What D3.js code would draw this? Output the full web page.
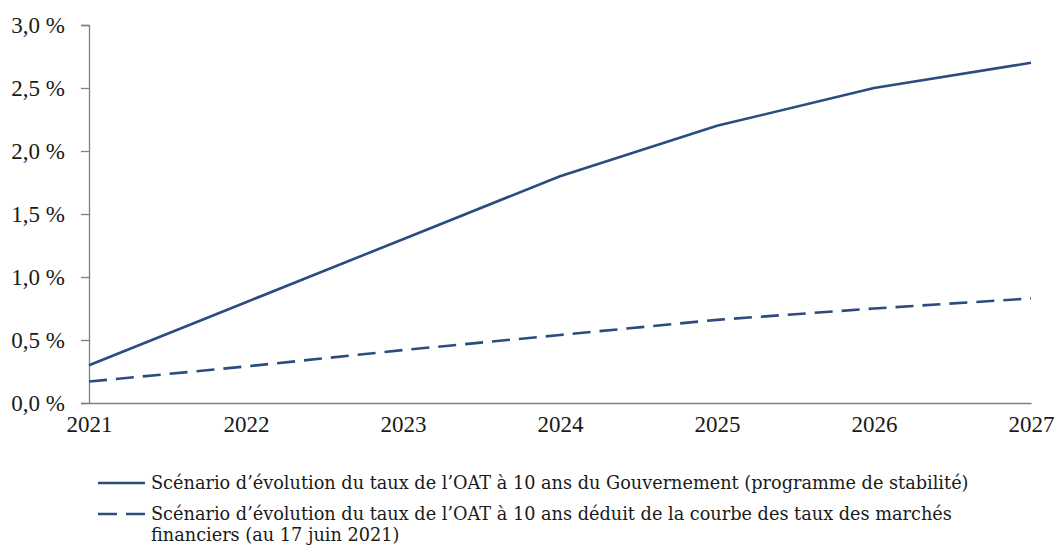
<!DOCTYPE html>
<html>
<head>
<meta charset="utf-8">
<script src="https://cdn.jsdelivr.net/npm/d3@7"></script>
<style>
  html, body { margin: 0; padding: 0; background: #fff; }
  svg text { font-family: "Liberation Serif", "DejaVu Serif", serif; fill: #1a1a1a; }
  svg .legend text { font-family: "DejaVu Serif", "Liberation Serif", serif; }
</style>
</head>
<body>
<svg id="chart" width="1056" height="549"></svg>
<script>
// Years on the horizontal axis
const years = [2021, 2022, 2023, 2024, 2025, 2026, 2027];
// 10-year OAT rate, government scenario (stability programme), in %
const govRates = [0.30, 0.80, 1.30, 1.80, 2.20, 2.50, 2.70];
// 10-year OAT rate implied by the market yield curve (17 June 2021), in %
const marketRates = [0.17, 0.29, 0.42, 0.54, 0.66, 0.75, 0.83];
// Y-axis tick values
const yTicks = [0, 0.5, 1.0, 1.5, 2.0, 2.5, 3.0];
// Legend labels
const legendGov = "Scénario d\u2019évolution du taux de l\u2019OAT à 10 ans du Gouvernement (programme de stabilité)";
const legendMarket1 = "Scénario d\u2019évolution du taux de l\u2019OAT à 10 ans déduit de la courbe des taux des marchés";
const legendMarket2 = "financiers (au 17 juin 2021)";

const lineColor = "#2b4c7e";
const axisColor = "#808080";

const svg = d3.select("#chart");
const margin = { left: 89, right: 25, top: 25, bottom: 146 };
const W = 1056, H = 549;

const x = d3.scalePoint().domain(years).range([margin.left, W - margin.right]);
const y = d3.scaleLinear().domain([0, 3]).range([H - margin.bottom, margin.top]);

const fmt = v => d3.format(".1f")(v).replace(".", ",") + " %";

// Y axis
const yAxis = svg.append("g")
  .attr("transform", `translate(${margin.left},0)`)
  .call(d3.axisLeft(y).tickValues(yTicks).tickFormat(fmt).tickSize(8).tickPadding(16));
yAxis.select(".domain").attr("stroke", axisColor).attr("stroke-width", 1.3);
yAxis.selectAll(".tick line").attr("stroke", axisColor).attr("stroke-width", 1.3);
yAxis.selectAll(".tick text").style("font-size", "23px").attr("fill", "#1a1a1a");

// X axis
const xAxis = svg.append("g")
  .attr("transform", `translate(0,${y(0)})`)
  .call(d3.axisBottom(x).tickSize(0).tickPadding(13).tickSizeOuter(0));
xAxis.select(".domain").attr("stroke", axisColor).attr("stroke-width", 1.3);
xAxis.selectAll(".tick text").style("font-size", "23px").attr("fill", "#1a1a1a");

const line = d3.line().x((d, i) => x(years[i])).y(d => y(d));

svg.append("path")
  .datum(govRates)
  .attr("d", line)
  .attr("fill", "none")
  .attr("stroke", lineColor)
  .attr("stroke-width", 2.6);

svg.append("path")
  .datum(marketRates)
  .attr("d", line)
  .attr("fill", "none")
  .attr("stroke", lineColor)
  .attr("stroke-width", 2.6)
  .attr("stroke-dasharray", "18,9");

// Legend
const lg = svg.append("g").attr("class", "legend");
lg.append("line").attr("x1", 98).attr("x2", 145).attr("y1", 483).attr("y2", 483)
  .attr("stroke", lineColor).attr("stroke-width", 2.6);
lg.append("text").attr("x", 151).attr("y", 489).style("font-size", "17.7px").text(legendGov);
lg.append("line").attr("x1", 98).attr("x2", 145).attr("y1", 514).attr("y2", 514)
  .attr("stroke", lineColor).attr("stroke-width", 2.6).attr("stroke-dasharray", "19,9");
lg.append("text").attr("x", 151).attr("y", 520).style("font-size", "17.7px").text(legendMarket1);
lg.append("text").attr("x", 151).attr("y", 541).style("font-size", "17.7px").text(legendMarket2);
</script>
</body>
</html>
